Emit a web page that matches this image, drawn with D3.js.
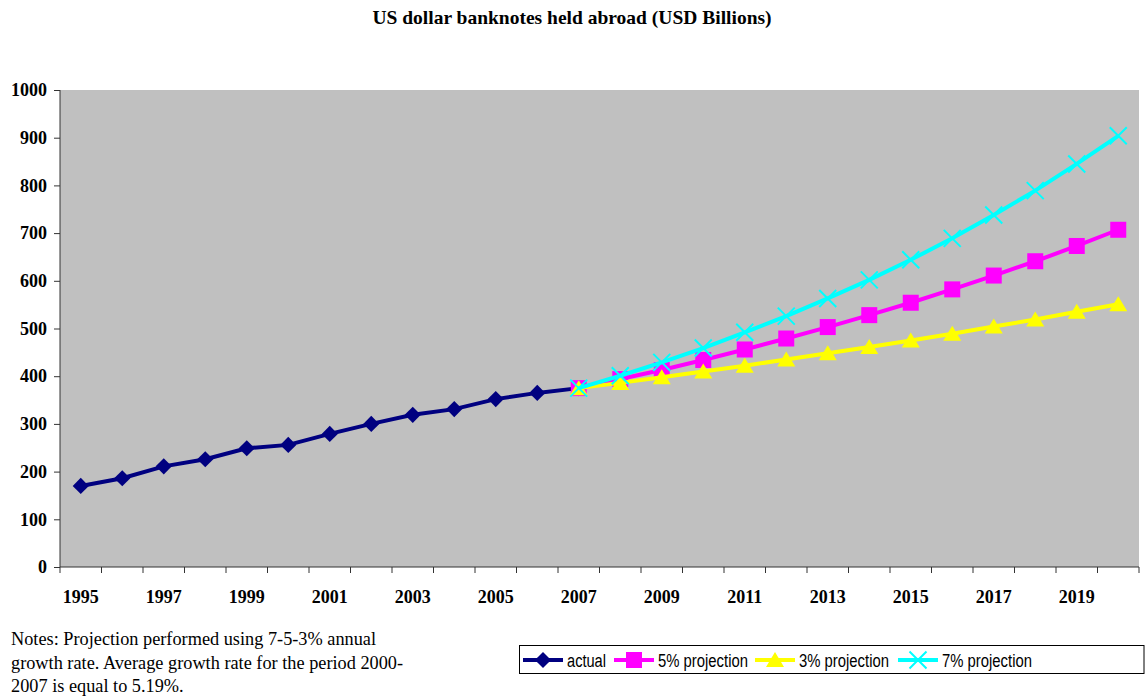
<!DOCTYPE html>
<html><head><meta charset="utf-8">
<script src="https://cdn.jsdelivr.net/npm/d3@7"></script>
<style>body{margin:0;background:#fff}</style>
</head><body>
<svg id="c" width="1146" height="700"></svg>
<script>
const years = d3.range(1995, 2021).map(String);
const xTickLabels = ["1995","1997","1999","2001","2003","2005","2007","2009","2011","2013","2015","2017","2019"];
const yTicks = [0,100,200,300,400,500,600,700,800,900,1000];
const actualYears = ["1995","1996","1997","1998","1999","2000","2001","2002","2003","2004","2005","2006","2007"];
const actualValues = [170,186,211,226,249,256,279,300,319,331,352,365,375];
const projYears = ["2007","2008","2009","2010","2011","2012","2013","2014","2015","2016","2017","2018","2019","2020"];
const proj5 = [375,394,413,434,456,479,503,528,554,582,611,641,673,707];
const proj3 = [375,386,398,410,422,435,448,461,475,489,504,519,535,551];
const proj7 = [375,401,429,459,492,526,563,602,644,689,738,789,845,904];

const svg = d3.select("#c");
const L = 60, R = 1139, T = 90, B = 567;
const x = d3.scaleBand().domain(years).range([L, R]);
const y = d3.scaleLinear().domain([0, 1000]).range([B, T]);

svg.append("rect").attr("x", L).attr("y", T).attr("width", R - L).attr("height", B - T).attr("fill", "#c0c0c0");

svg.append("text").attr("x", 572).attr("y", 24).attr("text-anchor", "middle")
  .attr("font-family", "Liberation Serif").attr("font-weight", "bold").attr("font-size", 19.5)
  .text("US dollar banknotes held abroad (USD Billions)");

// y axis
const ya = svg.append("g").attr("transform", `translate(${L},0)`)
  .call(d3.axisLeft(y).tickValues(yTicks).tickSize(6).tickPadding(7).tickFormat(d3.format("d")));
ya.select(".domain").attr("stroke", "#333").attr("d", `M-0,${T}V${B}`);
ya.selectAll(".tick line").attr("stroke", "#333");
ya.selectAll("text").attr("font-family", "Liberation Serif").attr("font-weight", "bold").attr("font-size", 18).attr("fill", "#000");

// x axis
const xg = svg.append("g").attr("transform", `translate(0,${B})`);
xg.append("line").attr("x1", L).attr("x2", R).attr("stroke", "#333");
const bounds = years.map(d => x(d)).concat([R]);
xg.selectAll("line.tk").data(bounds).join("line").attr("class", "tk")
  .attr("x1", d => d).attr("x2", d => d).attr("y1", 0).attr("y2", 6).attr("stroke", "#333");
xg.selectAll("text").data(xTickLabels).join("text")
  .attr("x", d => x(d) + x.bandwidth() / 2).attr("y", 36).attr("text-anchor", "middle")
  .attr("font-family", "Liberation Serif").attr("font-weight", "bold").attr("font-size", 18)
  .text(d => d);

const cx = d => x(d) + x.bandwidth() / 2;
const line = d3.line().x(d => cx(d[0])).y(d => y(d[1]));

function marker(g, type, color) {
  if (type === "diamond") g.append("path").attr("d", d3.symbol(d3.symbolSquare, 130)()).attr("transform", "rotate(45)").attr("fill", color);
  if (type === "square") g.append("rect").attr("x", -8).attr("y", -8).attr("width", 16).attr("height", 16).attr("fill", color);
  if (type === "triangle") g.append("path").attr("d", "M0,-8L9,7L-9,7Z").attr("fill", color);
  if (type === "x") g.append("path").attr("d", "M-8.5,-8.5L8.5,8.5M-8.5,8.5L8.5,-8.5").attr("stroke", color).attr("stroke-width", 2).attr("fill", "none");
}

const series = [
  {name: "actual", yrs: actualYears, vals: actualValues, color: "#000080", m: "diamond", w: 39},
  {name: "5% projection", yrs: projYears, vals: proj5, color: "#ff00ff", m: "square", w: 90},
  {name: "3% projection", yrs: projYears, vals: proj3, color: "#ffff00", m: "triangle", w: 90},
  {name: "7% projection", yrs: projYears, vals: proj7, color: "#00ffff", m: "x", w: 90}
];

series.forEach(s => {
  const pts = s.yrs.map((d, i) => [d, s.vals[i]]);
  svg.append("path").attr("d", line(pts)).attr("fill", "none").attr("stroke", s.color).attr("stroke-width", 4);
  pts.forEach(p => {
    const g = svg.append("g").attr("transform", `translate(${cx(p[0])},${y(p[1])})`);
    marker(g, s.m, s.color);
  });
});

// notes
const notes = ["Notes: Projection performed using 7-5-3% annual", "growth rate. Average growth rate for the period 2000-", "2007 is equal to 5.19%."];
svg.selectAll("text.note").data(notes).join("text").attr("class", "note")
  .attr("x", 11).attr("y", (d, i) => 645 + i * 23.5)
  .attr("font-family", "Liberation Serif").attr("font-size", 18.3).text(d => d);

// legend
svg.append("rect").attr("x", 519.5).attr("y", 645.5).attr("width", 624.5).attr("height", 28)
  .attr("fill", "#fff").attr("stroke", "#000");
const lx = [523, 614, 755, 898];
series.forEach((s, i) => {
  const g = svg.append("g");
  g.append("line").attr("x1", lx[i]).attr("x2", lx[i] + 40).attr("y1", 660).attr("y2", 660).attr("stroke", s.color).attr("stroke-width", 4);
  const mg = g.append("g").attr("transform", `translate(${lx[i] + 20},660)`);
  marker(mg, s.m, s.color);
  g.append("text").attr("x", lx[i] + 44).attr("y", 667).attr("font-family", "Liberation Sans").attr("font-size", 18)
    .attr("textLength", s.w).attr("lengthAdjust", "spacingAndGlyphs").text(s.name);
});
</script>
</body></html>
